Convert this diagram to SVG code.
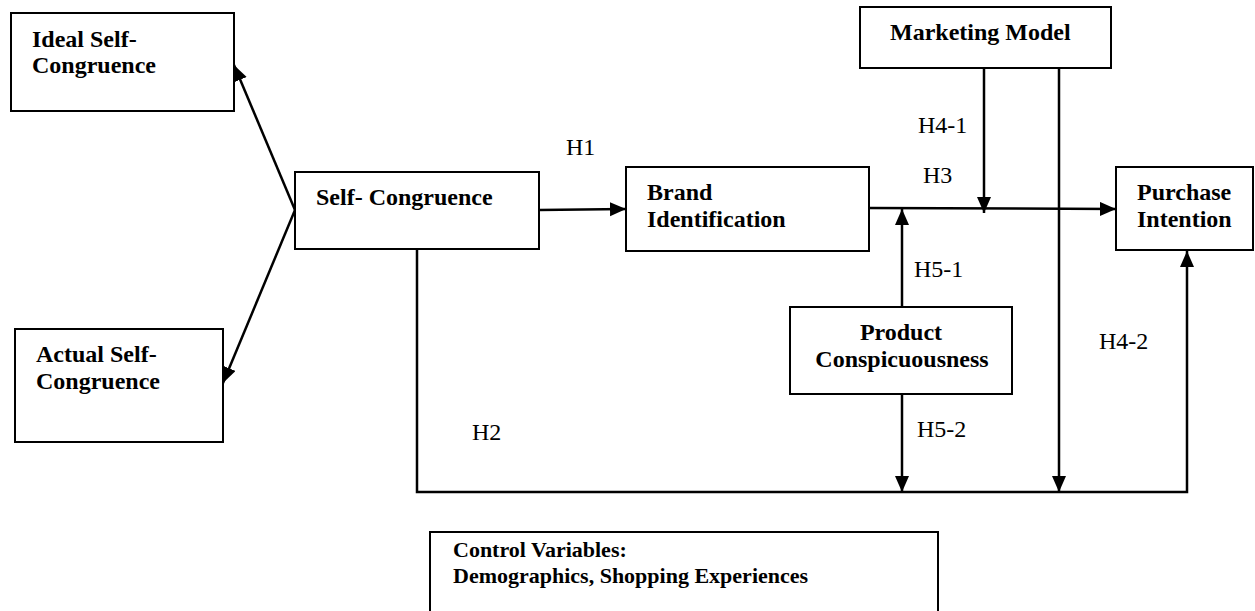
<svg xmlns="http://www.w3.org/2000/svg" width="1255" height="611" viewBox="0 0 1255 611">
<style>
.box{fill:#fff;stroke:#000;stroke-width:2}
.bt{font-family:"Liberation Serif","Times New Roman",serif;font-weight:bold;font-size:24px;fill:#000}
.ct{font-family:"Liberation Serif","Times New Roman",serif;font-weight:bold;font-size:22px;fill:#000}
.lb{font-family:"Liberation Serif","Times New Roman",serif;font-size:24px;fill:#000}
.ln{fill:none;stroke:#000;stroke-width:2.5}
</style>
<defs>
<marker id="ah" markerUnits="userSpaceOnUse" markerWidth="17" markerHeight="15" refX="16" refY="7" orient="auto">
<path d="M0,0 L16,7 L0,14 z" fill="#000"/>
</marker>
</defs>
<rect width="1255" height="611" fill="#fff"/>
<g id="connectors">
<line class="ln" x1="295" y1="210" x2="234" y2="65" marker-end="url(#ah)"/>
<line class="ln" x1="295" y1="210" x2="223" y2="383" marker-end="url(#ah)"/>
<line class="ln" x1="539" y1="210" x2="626" y2="209" marker-end="url(#ah)"/>
<line class="ln" x1="869" y1="208" x2="1116" y2="209" marker-end="url(#ah)"/>
<line class="ln" x1="984" y1="68" x2="984" y2="213" marker-end="url(#ah)"/>
<line class="ln" x1="902" y1="307" x2="902" y2="209" marker-end="url(#ah)"/>
<line class="ln" x1="1059" y1="65" x2="1059" y2="492" marker-end="url(#ah)"/>
<line class="ln" x1="902" y1="394" x2="902" y2="492" marker-end="url(#ah)"/>
<polyline class="ln" points="417,249 417,492 1187,492 1187,251" marker-end="url(#ah)"/>
<text class="lb" x="566" y="155">H1</text>
<text class="lb" x="918" y="133">H4-1</text>
<text class="lb" x="923" y="183">H3</text>
<text class="lb" x="914" y="277">H5-1</text>
<text class="lb" x="1099" y="349">H4-2</text>
<text class="lb" x="917" y="437">H5-2</text>
<text class="lb" x="472" y="440">H2</text>
</g>
<g id="ideal">
<rect class="box" x="11" y="13" width="223" height="98"/>
<text class="bt" x="32" y="47">Ideal Self-</text>
<text class="bt" x="32" y="73">Congruence</text>
</g>
<g id="actual">
<rect class="box" x="15" y="329" width="208" height="113"/>
<text class="bt" x="36" y="362">Actual Self-</text>
<text class="bt" x="36" y="389">Congruence</text>
</g>
<g id="self">
<rect class="box" x="295" y="172" width="244" height="77"/>
<text class="bt" x="316" y="205">Self- Congruence</text>
</g>
<g id="brand">
<rect class="box" x="626" y="167" width="243" height="84"/>
<text class="bt" x="647" y="200">Brand</text>
<text class="bt" x="647" y="227">Identification</text>
</g>
<g id="marketing">
<rect class="box" x="860" y="7" width="251" height="61"/>
<text class="bt" x="890" y="40">Marketing Model</text>
</g>
<g id="purchase">
<rect class="box" x="1116" y="167" width="137" height="83"/>
<text class="bt" x="1137" y="200">Purchase</text>
<text class="bt" x="1137" y="227">Intention</text>
</g>
<g id="product">
<rect class="box" x="790" y="307" width="222" height="87"/>
<text class="bt" x="901" y="340" text-anchor="middle">Product</text>
<text class="bt" x="902" y="367" text-anchor="middle">Conspicuousness</text>
</g>
<g id="control">
<rect class="box" x="430" y="532" width="508" height="84"/>
<text class="ct" x="453" y="557">Control Variables:</text>
<text class="ct" x="453" y="583">Demographics, Shopping Experiences</text>
</g>
</svg>
